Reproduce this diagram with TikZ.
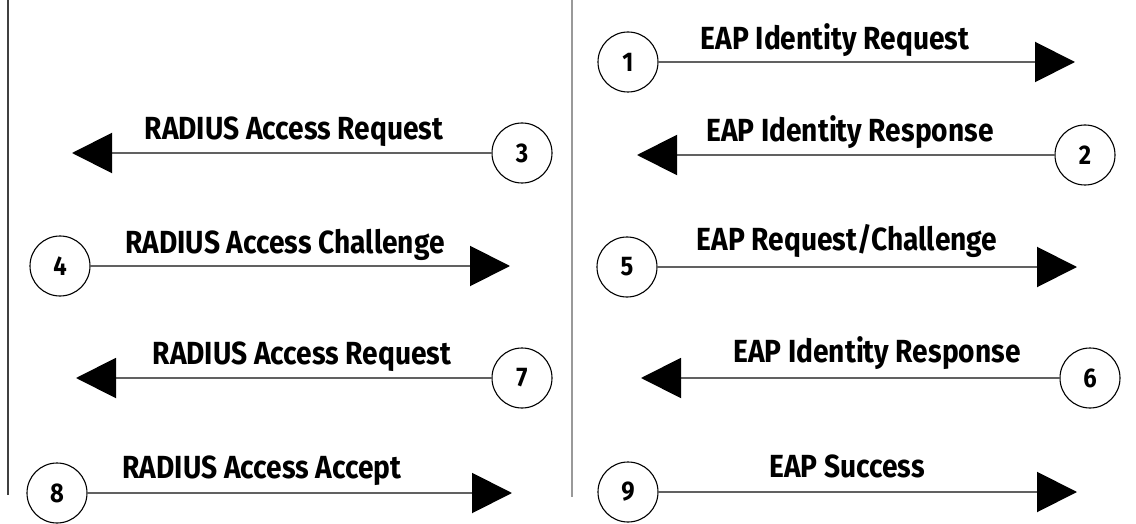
\documentclass[tikz,border=0pt]{standalone}
\usepackage{fontspec}
\setmainfont{Fira Sans}[FakeStretch=0.88]
\usetikzlibrary{arrows.meta}
\begin{document}
\begin{tikzpicture}[x=1pt,y=-1pt,
  num/.style={circle,draw=black,line width=1.1pt,minimum size=60pt,inner sep=0pt,font=\fontsize{27}{27}\selectfont\bfseries},
  msg/.style={draw=black!62,line width=2pt,-{Triangle[length=40pt,width=40pt,color=black]}},
  lbl/.style={font=\fontsize{32}{32}\selectfont\bfseries,inner sep=0pt,anchor=base},
  lane/.style={line width=2pt}]
\useasboundingbox (0,0) rectangle (1136,524);
\draw[lane,black!75] (8,0) -- (8,495);
\draw[lane,black!40] (572,0) -- (572,497);
% numbered circles
\node[num] (n1) at (628,62) {1};
\node[num] (n2) at (1085,155) {2};
\node[num] (n3) at (522,153) {3};
\node[num] (n4) at (60,266) {4};
\node[num] (n5) at (627,267) {5};
\node[num] (n6) at (1090,378) {6};
\node[num] (n7) at (522,378) {7};
\node[num] (n8) at (57,493) {8};
\node[num] (n9) at (628,492) {9};
% arrow tips
\coordinate (t1) at (1075,62);
\coordinate (t2) at (637,155);
\coordinate (t3) at (72,153);
\coordinate (t4) at (510,266);
\coordinate (t5) at (1077,267);
\coordinate (t6) at (641,378);
\coordinate (t7) at (76,378);
\coordinate (t8) at (512,493);
\coordinate (t9) at (1077,492);
\foreach \i in {1,...,9} \draw[msg] (n\i) -- (t\i);
% labels
\node[lbl] (l1) at (835,50) {EAP Identity Request};
\node[lbl] (l2) at (850,142) {EAP Identity Response};
\node[lbl] (l3) at (294,140) {RADIUS Access Request};
\node[lbl] (l4) at (285,253) {RADIUS Access Challenge};
\node[lbl] (l5) at (847,251) {EAP Request/Challenge};
\node[lbl] (l6) at (877,362) {EAP Identity Response};
\node[lbl] (l7) at (302,364) {RADIUS Access Request};
\node[lbl] (l8) at (262,478) {RADIUS Access Accept};
\node[lbl] (l9) at (847,477) {EAP Success};
\end{tikzpicture}
\end{document}
